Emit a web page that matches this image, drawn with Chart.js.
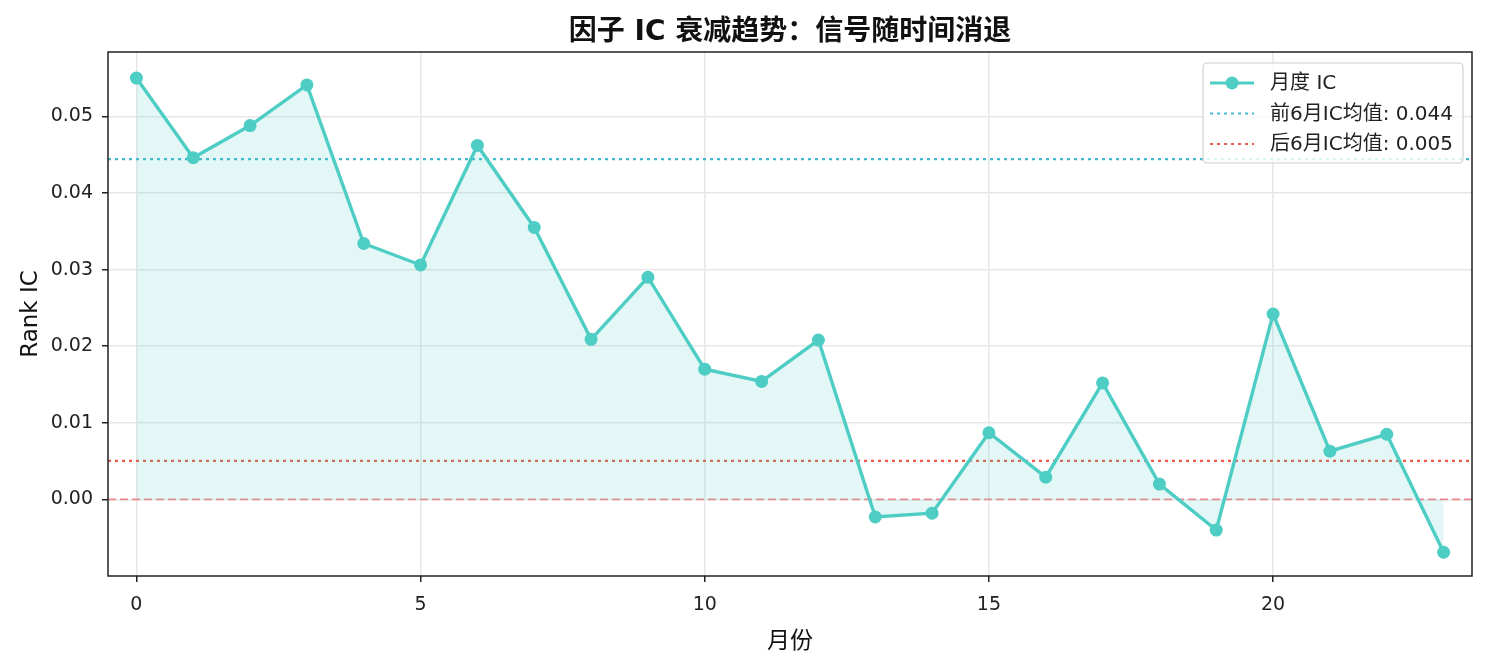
<!DOCTYPE html>
<html>
<head>
<meta charset="utf-8">
<script src="https://cdn.jsdelivr.net/npm/chart.js@4.4.1/dist/chart.umd.min.js"></script>
<style>
  html, body { margin: 0; padding: 0; background: #fff; }
  canvas { display: block; }
</style>
</head>
<body>
<canvas id="chart" width="1488" height="660"></canvas>
<script>
// month index and monthly rank IC
const months = [0, 1, 2, 3, 4, 5, 6, 7, 8, 9, 10, 11, 12, 13, 14, 15, 16, 17, 18, 19, 20, 21, 22, 23];
const rankIC = [0.0550, 0.0446, 0.0488, 0.0541, 0.0334, 0.0306, 0.0462, 0.0355, 0.0209, 0.0290,
  0.0170, 0.0154, 0.0208, -0.0023, -0.0018, 0.0087, 0.0029, 0.0152, 0.0020, -0.0040,
  0.0242, 0.0063, 0.0085, -0.0069];
const xTicks = [0, 5, 10, 15, 20];
const yTicks = [0.00, 0.01, 0.02, 0.03, 0.04, 0.05];

const TITLE = '因子 IC 衰减趋势：信号随时间消退';

// latin glyphs from DejaVu, CJK falls back to Noto
const FONT = '"DejaVu Sans", "Noto Sans CJK SC", sans-serif';
const TEAL = '#4ECDC4';
const BLUE = '#45B7D1';
const RED = '#EE5A4B';

const mean = arr => arr.reduce((a, b) => a + b, 0) / arr.length;
const firstMean = mean(rankIC.slice(0, 6));
const lastMean = mean(rankIC.slice(-6));

const xMin = -0.5, xMax = 23.5;
const hline = v => [{ x: xMin, y: v }, { x: xMax, y: v }];

const legendItems = [
  { text: '月度 IC', color: TEAL, marker: true },
  { text: '前6月IC均值: ' + firstMean.toFixed(3), color: BLUE, dash: [3, 4] },
  { text: '后6月IC均值: ' + lastMean.toFixed(3), color: RED, dash: [3, 4] }
];

// title centred over the axes, axes frame, matplotlib-style legend inside the plot
const framePlugin = {
  id: 'frame',
  afterDatasetsDraw(chart) {
    const { ctx, chartArea: a } = chart;
    ctx.save();

    ctx.font = 'bold 28px ' + FONT;
    ctx.fillStyle = '#111';
    ctx.textAlign = 'center';
    ctx.textBaseline = 'middle';
    ctx.fillText(TITLE, (a.left + a.right) / 2, 33);
    ctx.textAlign = 'left';

    ctx.font = '20px ' + FONT;
    const tw = Math.max(...legendItems.map(it => ctx.measureText(it.text).width));
    const w = 67 + tw + 10, h = 100;
    const x0 = a.right - 9 - w, y0 = a.top + 11;
    ctx.beginPath();
    ctx.roundRect(x0, y0, w, h, 4);
    ctx.fillStyle = 'rgba(255,255,255,0.8)';
    ctx.fill();
    ctx.strokeStyle = '#d0d0d0';
    ctx.lineWidth = 1.2;
    ctx.stroke();
    legendItems.forEach((it, i) => {
      const cy = y0 + 20 + i * 30.5;
      ctx.strokeStyle = it.color;
      ctx.lineWidth = it.marker ? 3.2 : 2.2;
      ctx.setLineDash(it.dash || []);
      ctx.beginPath();
      ctx.moveTo(x0 + 7, cy);
      ctx.lineTo(x0 + 51, cy);
      ctx.stroke();
      ctx.setLineDash([]);
      if (it.marker) {
        ctx.fillStyle = it.color;
        ctx.beginPath();
        ctx.arc(x0 + 29, cy, 6.5, 0, Math.PI * 2);
        ctx.fill();
      }
      ctx.fillStyle = '#222';
      ctx.textBaseline = 'middle';
      ctx.fillText(it.text, x0 + 67, cy + 1);
    });

    ctx.strokeStyle = '#222';
    ctx.lineWidth = 1.5;
    ctx.strokeRect(a.left, a.top, a.right - a.left, a.bottom - a.top);
    ctx.restore();
  }
};

new Chart(document.getElementById('chart'), {
  type: 'line',
  data: {
    datasets: [
      {
        label: '月度 IC',
        data: months.map((m, i) => ({ x: m, y: rankIC[i] })),
        borderColor: TEAL,
        backgroundColor: 'rgba(78,205,196,0.16)',
        borderWidth: 3.4,
        pointRadius: 6.5,
        pointBackgroundColor: TEAL,
        pointBorderWidth: 0,
        fill: 'origin',
        tension: 0,
        order: 1
      },
      {
        label: 'zero',
        data: hline(0),
        borderColor: 'rgba(240,70,80,0.6)',
        borderDash: [8, 4],
        borderWidth: 1.6,
        pointRadius: 0,
        fill: false,
        order: 4
      },
      {
        label: 'first',
        data: hline(firstMean),
        borderColor: BLUE,
        borderDash: [3, 4],
        borderWidth: 2.2,
        pointRadius: 0,
        fill: false,
        order: 2
      },
      {
        label: 'last',
        data: hline(lastMean),
        borderColor: RED,
        borderDash: [3, 4],
        borderWidth: 2.2,
        pointRadius: 0,
        fill: false,
        order: 3
      }
    ]
  },
  options: {
    responsive: false,
    animation: false,
    devicePixelRatio: 1,
    layout: { padding: { top: 52, left: 0, right: 16, bottom: 0 } },
    plugins: {
      legend: { display: false },
      tooltip: { enabled: false },
      title: { display: false }
    },
    scales: {
      x: {
        type: 'linear',
        min: xMin,
        max: xMax,
        afterBuildTicks: s => { s.ticks = xTicks.map(v => ({ value: v })); },
        afterFit: s => { s.height = 84; },
        grid: { color: '#e7e7e7', lineWidth: 1.5, tickColor: '#222', tickLength: 6, tickWidth: 1.5 },
        border: { display: false },
        ticks: { color: '#222', padding: 12, font: { family: FONT, size: 19 }, maxRotation: 0 },
        title: {
          display: true,
          text: '月份',
          color: '#111',
          font: { family: FONT, size: 23, lineHeight: 1.2 },
          padding: { top: 24 }
        }
      },
      y: {
        type: 'linear',
        min: -0.0100,
        max: 0.0584,
        afterBuildTicks: s => { s.ticks = yTicks.map(v => ({ value: v })); },
        afterFit: s => { s.width = 108; },
        grid: { color: '#e7e7e7', lineWidth: 1.5, tickColor: '#222', tickLength: 6, tickWidth: 1.5 },
        border: { display: false },
        ticks: {
          color: '#222',
          padding: 9,
          font: { family: FONT, size: 19 },
          callback: v => v.toFixed(2)
        },
        title: {
          display: true,
          text: 'Rank IC',
          color: '#111',
          font: { family: FONT, size: 23, lineHeight: 1.2 },
          padding: { top: 17 }
        }
      }
    }
  },
  plugins: [framePlugin]
});
</script>
</body>
</html>
